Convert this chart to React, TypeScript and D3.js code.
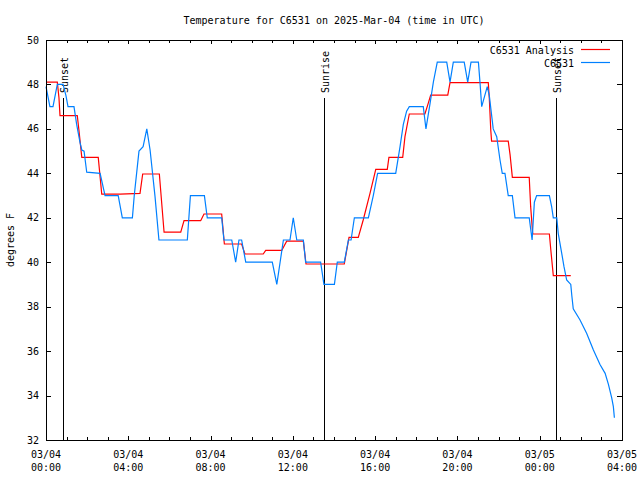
import React from "react";
import * as d3 from "d3";

// chart text
const title = "Temperature for C6531 on 2025-Mar-04 (time in UTC)";
const yLabel = "degrees F";
const seriesNames = ["C6531 Analysis", "C6531"];
const seriesColors = ["#ff0000", "#0080ff"];

// x axis: hours since 03/04 00:00 UTC
const xTickDates = ["03/04", "03/04", "03/04", "03/04", "03/04", "03/04", "03/05", "03/05"];
const xTickTimes = ["00:00", "04:00", "08:00", "12:00", "16:00", "20:00", "00:00", "04:00"];
const yTicks = [32, 34, 36, 38, 40, 42, 44, 46, 48, 50];

const sunEvents = [
  { label: "Sunset", hour: 0.83 },
  { label: "Sunrise", hour: 13.51 },
  { label: "Sunset", hour: 24.79 },
];

// [hour, degrees F]
const analysis = [
  [0.0, 48.1], [0.55, 48.1], [0.63, 47.4], [0.68, 46.6], [1.52, 46.6], [1.6, 45.95],
  [1.74, 44.72], [2.54, 44.72], [2.71, 43.06], [3.6, 43.06], [4.57, 43.1], [4.7, 43.97],
  [5.51, 43.97], [5.74, 41.35], [6.55, 41.35], [6.71, 41.87], [7.52, 41.87], [7.68, 42.17],
  [8.54, 42.17], [8.67, 40.82], [9.51, 40.82], [9.67, 40.37], [10.56, 40.37], [10.68, 40.53],
  [11.46, 40.53], [11.7, 40.95], [12.51, 40.95], [12.64, 39.92], [14.5, 39.92], [14.73, 41.12],
  [15.18, 41.12], [15.42, 41.9], [15.75, 43.1], [16.03, 44.18], [16.59, 44.18], [16.67, 44.72],
  [17.34, 44.72], [17.45, 45.65], [17.66, 46.67], [18.42, 46.67], [18.58, 47.15], [18.7, 47.52],
  [19.53, 47.52], [19.64, 48.08], [21.5, 48.08], [21.55, 47.37], [21.62, 45.95], [21.66, 45.45],
  [22.47, 45.45], [22.56, 44.83], [22.67, 43.82], [23.49, 43.82], [23.56, 42.5], [23.66, 41.27],
  [24.47, 41.27], [24.54, 40.55], [24.66, 39.4], [25.51, 39.4],
];

const observed = [
  [0.0, 47.9], [0.19, 47.0], [0.34, 47.0], [0.55, 48.0], [0.83, 48.0], [0.97, 47.5],
  [1.07, 47.0], [1.36, 47.0], [1.49, 46.2], [1.65, 45.4], [1.74, 45.05], [1.85, 45.0],
  [1.98, 44.05], [2.63, 44.0], [2.87, 43.0], [3.51, 43.0], [3.71, 42.0], [4.2, 42.0],
  [4.29, 43.0], [4.52, 45.0], [4.72, 45.2], [4.9, 46.0], [5.06, 45.05], [5.3, 42.95],
  [5.49, 41.0], [6.87, 41.0], [7.02, 43.0], [7.7, 43.0], [7.84, 42.0], [8.54, 42.0],
  [8.65, 41.0], [9.03, 41.0], [9.22, 40.0], [9.38, 41.0], [9.51, 41.0], [9.71, 40.0],
  [11.0, 40.0], [11.22, 39.0], [11.38, 40.0], [11.54, 41.0], [11.86, 41.0], [12.02, 42.0],
  [12.19, 41.0], [12.51, 41.0], [12.62, 40.0], [13.35, 40.0], [13.51, 39.0], [14.02, 39.0],
  [14.16, 40.0], [14.5, 40.0], [14.7, 41.0], [14.83, 41.0], [14.99, 42.0], [15.67, 42.0],
  [15.91, 43.0], [16.12, 44.0], [17.0, 44.0], [17.21, 45.2], [17.37, 46.2], [17.53, 46.8],
  [17.66, 47.0], [18.34, 47.0], [18.47, 46.0], [18.67, 47.15], [18.83, 48.1], [19.02, 49.0],
  [19.48, 49.0], [19.64, 48.1], [19.8, 49.0], [20.33, 49.0], [20.5, 48.1], [20.66, 49.0],
  [21.02, 49.0], [21.1, 48.05], [21.18, 47.0], [21.45, 47.9], [21.55, 47.5], [21.74, 46.0],
  [21.91, 45.65], [22.07, 44.6], [22.18, 44.0], [22.31, 44.0], [22.47, 43.0], [22.67, 43.0],
  [22.8, 42.0], [23.49, 42.0], [23.63, 41.0], [23.74, 42.7], [23.85, 43.0], [24.47, 43.0],
  [24.58, 42.5], [24.66, 42.0], [24.83, 42.0], [24.9, 41.3], [25.07, 40.4], [25.18, 39.8],
  [25.31, 39.2], [25.51, 39.0], [25.56, 38.5], [25.63, 37.9], [25.96, 37.4], [26.28, 36.8],
  [26.61, 36.05], [26.93, 35.4], [27.18, 35.0], [27.34, 34.5], [27.5, 33.9], [27.58, 33.5],
  [27.63, 33.0],
];

const width = 640;
const height = 480;
const marginLeft = 46;
const marginRight = 18;
const marginTop = 40;
const marginBottom = 40;
const font = "'DejaVu Sans Mono', monospace";

export default function App() {
  const x = d3.scaleLinear([0, 28], [marginLeft, width - marginRight]);
  const y = d3.scaleLinear([32, 50], [height - marginBottom, marginTop]);
  const line = d3
    .line()
    .x((d) => x(d[0]))
    .y((d) => y(d[1]));

  const majorHours = d3.range(0, 29, 4);
  const minorHours = d3.range(0, 29, 1).filter((h) => h % 4 !== 0);
  const x0 = marginLeft, x1 = width - marginRight;
  const y0 = marginTop, y1 = height - marginBottom;

  return (
    <svg
      width={width}
      height={height}
      style={{ position: "absolute", left: 0, top: 0, background: "white" }}
      fontFamily={font}
      fontSize={10}
    >
      <rect width={width} height={height} fill="white" />
      <text x={(x0 + x1) / 2} y={20} textAnchor="middle" dominantBaseline="central">
        {title}
      </text>
      <text
        transform={`translate(10,${(y0 + y1) / 2}) rotate(-90)`}
        textAnchor="middle"
        dominantBaseline="central"
      >
        {yLabel}
      </text>

      {/* y ticks */}
      {yTicks.map((t) => (
        <g key={"y" + t}>
          <line x1={x0} x2={x0 + 5} y1={Math.round(y(t)) + 0.5} y2={Math.round(y(t)) + 0.5} stroke="black" />
          <line x1={x1 - 5} x2={x1} y1={Math.round(y(t)) + 0.5} y2={Math.round(y(t)) + 0.5} stroke="black" />
          <text x={x0 - 7} y={y(t)} textAnchor="end" dominantBaseline="central">
            {t}
          </text>
        </g>
      ))}

      {/* x ticks */}
      {majorHours.map((h, i) => (
        <g key={"x" + h}>
          <line x1={Math.round(x(h)) + 0.5} x2={Math.round(x(h)) + 0.5} y1={y1 - 4} y2={y1} stroke="black" />
          <line x1={Math.round(x(h)) + 0.5} x2={Math.round(x(h)) + 0.5} y1={y0} y2={y0 + 4} stroke="black" />
          <text x={x(h)} y={454} textAnchor="middle" dominantBaseline="central">
            {xTickDates[i]}
          </text>
          <text x={x(h)} y={467} textAnchor="middle" dominantBaseline="central">
            {xTickTimes[i]}
          </text>
        </g>
      ))}
      {minorHours.map((h) => (
        <g key={"m" + h}>
          <line x1={Math.round(x(h)) + 0.5} x2={Math.round(x(h)) + 0.5} y1={y1 - 3} y2={y1} stroke="black" />
          <line x1={Math.round(x(h)) + 0.5} x2={Math.round(x(h)) + 0.5} y1={y0} y2={y0 + 3} stroke="black" />
        </g>
      ))}

      {/* sunrise / sunset markers */}
      {sunEvents.map((s, i) => {
        const sx = Math.round(x(s.hour)) + 0.5;
        return (
          <g key={"s" + i}>
            <line x1={sx} x2={sx} y1={98} y2={y1} stroke="black" />
            <text
              transform={`translate(${sx + 1},93) rotate(-90)`}
              textAnchor="start"
              dominantBaseline="central"
            >
              {s.label}
            </text>
          </g>
        );
      })}

      <path d={line(analysis)} fill="none" stroke={seriesColors[0]} strokeWidth={1.2} />
      <path d={line(observed)} fill="none" stroke={seriesColors[1]} strokeWidth={1.2} />

      {/* legend */}
      {seriesNames.map((n, i) => (
        <g key={n}>
          <text x={574} y={50 + i * 13} textAnchor="end" dominantBaseline="central">
            {n}
          </text>
          <line x1={581} x2={610} y1={49.5 + i * 13} y2={49.5 + i * 13} stroke={seriesColors[i]} strokeWidth={1.2} />
        </g>
      ))}

      <rect x={x0 + 0.5} y={y0 + 0.5} width={x1 - x0} height={y1 - y0} fill="none" stroke="black" />
    </svg>
  );
}
